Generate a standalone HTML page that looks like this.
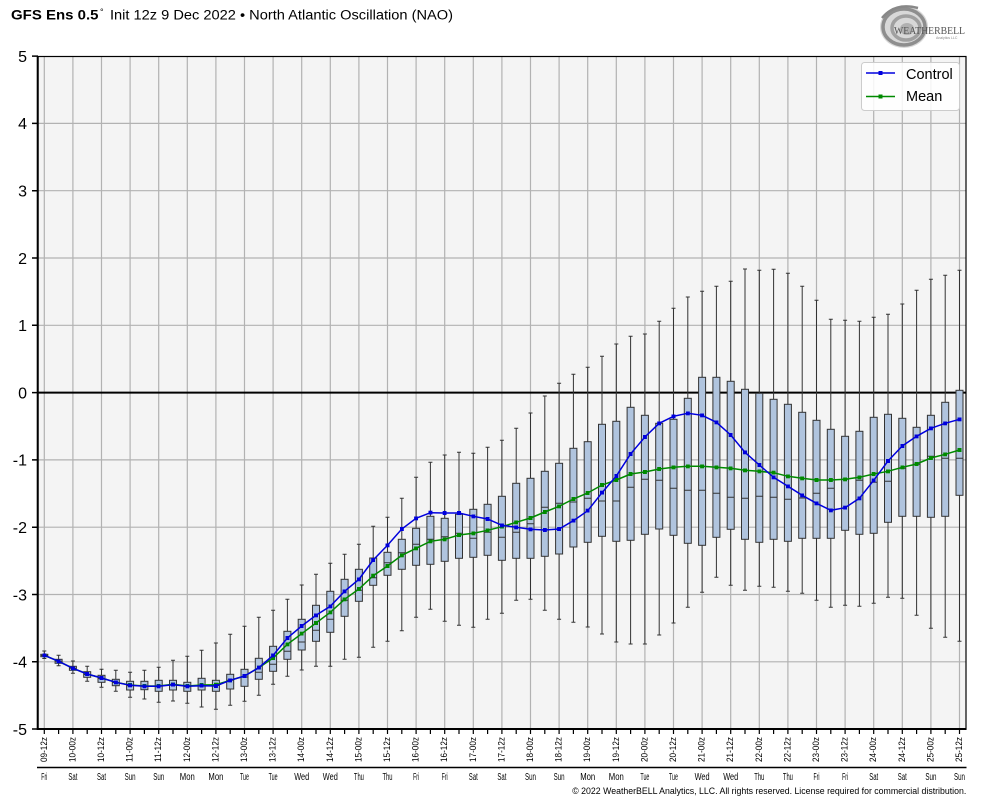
<!DOCTYPE html>
<html><head><meta charset="utf-8"><style>html,body{margin:0;padding:0;background:#fff}svg{display:block}</style></head>
<body>
<svg width="984" height="808" viewBox="0 0 984 808" xmlns="http://www.w3.org/2000/svg" font-family="'Liberation Sans', 'DejaVu Sans', sans-serif">
<defs>
<marker id="mc" markerWidth="4" markerHeight="4" refX="2" refY="2" markerUnits="userSpaceOnUse"><rect width="4" height="4" fill="#0000dd"/></marker>
<marker id="mm" markerWidth="4" markerHeight="4" refX="2" refY="2" markerUnits="userSpaceOnUse"><rect width="4" height="4" fill="#008a00"/></marker>
</defs>
<!-- title -->
<text x="11" y="19.5" font-size="13.5" font-weight="bold" fill="#000" textLength="87.5" lengthAdjust="spacingAndGlyphs">GFS Ens 0.5</text>
<text x="100" y="15" font-size="9" fill="#000">°</text>
<text x="110" y="19.5" font-size="13.5" fill="#000" textLength="343" lengthAdjust="spacingAndGlyphs">Init 12z 9 Dec 2022 • North Atlantic Oscillation (NAO)</text>
<!-- logo -->
<g>
<ellipse cx="904" cy="27" rx="24" ry="21" fill="#d8d8d8"/>
<ellipse cx="904" cy="27" rx="21" ry="18" fill="none" stroke="#8e8e8e" stroke-width="3.5"/>
<ellipse cx="906" cy="28" rx="14" ry="12" fill="none" stroke="#a0a0a0" stroke-width="3.5"/>
<ellipse cx="907" cy="29" rx="7" ry="6" fill="#b0b0b0"/>
<path d="M882 18 Q895 2 918 8" fill="none" stroke="#888" stroke-width="2.5"/>
<text x="894" y="34" font-family="'Liberation Serif', serif" font-size="10" fill="#555" textLength="71" lengthAdjust="spacingAndGlyphs">WEATHERBELL</text>
<text x="936" y="39" font-size="3.5" fill="#888">Analytics LLC</text>
</g>
<!-- plot background -->
<rect x="38" y="56" width="928" height="673" fill="#f4f4f4"/>
<!-- grid -->
<path fill="none" stroke="#b2b2b2" stroke-width="1.2" d="M44.3 56V729M72.9 56V729M101.5 56V729M130.1 56V729M158.7 56V729M187.3 56V729M215.9 56V729M244.5 56V729M273.1 56V729M301.7 56V729M330.3 56V729M358.9 56V729M387.5 56V729M416.1 56V729M444.7 56V729M473.3 56V729M501.9 56V729M530.5 56V729M559.1 56V729M587.7 56V729M616.3 56V729M644.9 56V729M673.5 56V729M702.1 56V729M730.7 56V729M759.3 56V729M787.9 56V729M816.5 56V729M845.1 56V729M873.7 56V729M902.3 56V729M930.9 56V729M959.5 56V729M38 123.4H966M38 190.7H966M38 258H966M38 325.3H966M38 459.9H966M38 527.2H966M38 594.5H966M38 661.8H966"/>
<!-- zero line -->
<path d="M38 392.6H966" stroke="#000" stroke-width="2"/>
<!-- boxes -->
<g fill="#b0c4de" stroke="#333" stroke-width="1">
<rect x="40.8" y="654.3" width="7" height="2.4"/><path d="M44.3 651V654.3M44.3 656.7V658.5M42.3 651h4M42.3 658.5h4M40.8 655.5h7"/>
<rect x="55.1" y="659.3" width="7" height="4"/><path d="M58.6 655.3V659.3M58.6 663.3V665.7M56.6 655.3h4M56.6 665.7h4M55.1 661.3h7"/>
<rect x="69.4" y="666.3" width="7" height="4"/><path d="M72.9 661V666.3M72.9 670.3V673.3M70.9 661h4M70.9 673.3h4M69.4 668.3h7"/>
<rect x="83.7" y="671.7" width="7" height="5.6"/><path d="M87.2 666.3V671.7M87.2 677.3V681.3M85.2 666.3h4M85.2 681.3h4M83.7 674.5h7"/>
<rect x="98" y="675.3" width="7" height="7"/><path d="M101.5 669.3V675.3M101.5 682.3V687.3M99.5 669.3h4M99.5 687.3h4M98 678.5h7"/>
<rect x="112.3" y="679.3" width="7" height="6.4"/><path d="M115.8 670.3V679.3M115.8 685.7V691.3M113.8 670.3h4M113.8 691.3h4M112.3 682.5h7"/>
<rect x="126.6" y="681.3" width="7" height="8.7"/><path d="M130.1 672.3V681.3M130.1 690V697.3M128.1 672.3h4M128.1 697.3h4M126.6 685.7h7"/>
<rect x="140.9" y="681.3" width="7" height="8.4"/><path d="M144.4 670.3V681.3M144.4 689.7V699M142.4 670.3h4M142.4 699h4M140.9 686h7"/>
<rect x="155.2" y="680.3" width="7" height="11"/><path d="M158.7 667.3V680.3M158.7 691.3V702.3M156.7 667.3h4M156.7 702.3h4M155.2 686h7"/>
<rect x="169.5" y="680.3" width="7" height="9.7"/><path d="M173 660.3V680.3M173 690V701M171 660.3h4M171 701h4M169.5 685h7"/>
<rect x="183.8" y="682.3" width="7" height="9"/><path d="M187.3 656.3V682.3M187.3 691.3V703.3M185.3 656.3h4M185.3 703.3h4M183.8 686.5h7"/>
<rect x="198.1" y="678.3" width="7" height="11.7"/><path d="M201.6 650.3V678.3M201.6 690V707M199.6 650.3h4M199.6 707h4M198.1 686h7"/>
<rect x="212.4" y="680.3" width="7" height="11"/><path d="M215.9 643V680.3M215.9 691.3V709.3M213.9 643h4M213.9 709.3h4M212.4 685.5h7"/>
<rect x="226.7" y="674.3" width="7" height="14.7"/><path d="M230.2 634.3V674.3M230.2 689V705.3M228.2 634.3h4M228.2 705.3h4M226.7 680.3h7"/>
<rect x="241" y="669.3" width="7" height="17"/><path d="M244.5 626.3V669.3M244.5 686.3V701.3M242.5 626.3h4M242.5 701.3h4M241 677h7"/>
<rect x="255.3" y="658.3" width="7" height="21"/><path d="M258.8 617.3V658.3M258.8 679.3V695.3M256.8 617.3h4M256.8 695.3h4M255.3 672.3h7"/>
<rect x="269.6" y="646.3" width="7" height="25"/><path d="M273.1 610.3V646.3M273.1 671.3V684.3M271.1 610.3h4M271.1 684.3h4M269.6 664.3h7"/>
<rect x="283.9" y="631.3" width="7" height="28"/><path d="M287.4 599.3V631.3M287.4 659.3V676.3M285.4 599.3h4M285.4 676.3h4M283.9 651.3h7"/>
<rect x="298.2" y="619.3" width="7" height="30.7"/><path d="M301.7 585V619.3M301.7 650V670M299.7 585h4M299.7 670h4M298.2 642h7"/>
<rect x="312.5" y="605.3" width="7" height="36"/><path d="M316 574.3V605.3M316 641.3V666.3M314 574.3h4M314 666.3h4M312.5 630.3h7"/>
<rect x="326.8" y="591.3" width="7" height="41"/><path d="M330.3 563.3V591.3M330.3 632.3V666.3M328.3 563.3h4M328.3 666.3h4M326.8 619.3h7"/>
<rect x="341.1" y="579.3" width="7" height="37"/><path d="M344.6 554.3V579.3M344.6 616.3V659.3M342.6 554.3h4M342.6 659.3h4M341.1 600.3h7"/>
<rect x="355.4" y="569.3" width="7" height="32"/><path d="M358.9 544.3V569.3M358.9 601.3V657.3M356.9 544.3h4M356.9 657.3h4M355.4 590.3h7"/>
<rect x="369.7" y="558" width="7" height="27.3"/><path d="M373.2 526.3V558M373.2 585.3V647.3M371.2 526.3h4M371.2 647.3h4M369.7 577.7h7"/>
<rect x="384" y="552.3" width="7" height="23"/><path d="M387.5 517.3V552.3M387.5 575.3V641.3M385.5 517.3h4M385.5 641.3h4M384 562.7h7"/>
<rect x="398.3" y="539.3" width="7" height="30"/><path d="M401.8 498.3V539.3M401.8 569.3V630.7M399.8 498.3h4M399.8 630.7h4M398.3 552.7h7"/>
<rect x="412.6" y="528.3" width="7" height="37"/><path d="M416.1 477.3V528.3M416.1 565.3V617.3M414.1 477.3h4M414.1 617.3h4M412.6 544.3h7"/>
<rect x="426.9" y="516.3" width="7" height="48"/><path d="M430.4 462.3V516.3M430.4 564.3V609.3M428.4 462.3h4M428.4 609.3h4M426.9 539.3h7"/>
<rect x="441.2" y="518.3" width="7" height="43"/><path d="M444.7 455V518.3M444.7 561.3V621.3M442.7 455h4M442.7 621.3h4M441.2 536.7h7"/>
<rect x="455.5" y="514.3" width="7" height="44"/><path d="M459 452.3V514.3M459 558.3V625.3M457 452.3h4M457 625.3h4M455.5 533.3h7"/>
<rect x="469.8" y="509.3" width="7" height="48"/><path d="M473.3 453.3V509.3M473.3 557.3V627.3M471.3 453.3h4M471.3 627.3h4M469.8 538.3h7"/>
<rect x="484.1" y="504.3" width="7" height="51"/><path d="M487.6 447.3V504.3M487.6 555.3V619.3M485.6 447.3h4M485.6 619.3h4M484.1 532.3h7"/>
<rect x="498.4" y="496.3" width="7" height="64"/><path d="M501.9 440.3V496.3M501.9 560.3V613.3M499.9 440.3h4M499.9 613.3h4M498.4 537.3h7"/>
<rect x="512.7" y="483.3" width="7" height="75"/><path d="M516.2 428.3V483.3M516.2 558.3V600.3M514.2 428.3h4M514.2 600.3h4M512.7 532.3h7"/>
<rect x="527" y="478.3" width="7" height="80"/><path d="M530.5 413V478.3M530.5 558.3V599.3M528.5 413h4M528.5 599.3h4M527 523.7h7"/>
<rect x="541.3" y="471.3" width="7" height="85"/><path d="M544.8 396V471.3M544.8 556.3V610.3M542.8 396h4M542.8 610.3h4M541.3 507.3h7"/>
<rect x="555.6" y="463.3" width="7" height="90.7"/><path d="M559.1 383.3V463.3M559.1 554V619.3M557.1 383.3h4M557.1 619.3h4M555.6 503.3h7"/>
<rect x="569.9" y="448.3" width="7" height="98.7"/><path d="M573.4 374.3V448.3M573.4 547V622.3M571.4 374.3h4M571.4 622.3h4M569.9 502h7"/>
<rect x="584.2" y="441.7" width="7" height="100.6"/><path d="M587.7 367.3V441.7M587.7 542.3V627M585.7 367.3h4M585.7 627h4M584.2 498.3h7"/>
<rect x="598.5" y="424.3" width="7" height="112"/><path d="M602 356.3V424.3M602 536.3V634M600 356.3h4M600 634h4M598.5 501h7"/>
<rect x="612.8" y="421.3" width="7" height="120"/><path d="M616.3 344V421.3M616.3 541.3V642M614.3 344h4M614.3 642h4M612.8 501h7"/>
<rect x="627.1" y="407.3" width="7" height="133"/><path d="M630.6 336.3V407.3M630.6 540.3V644M628.6 336.3h4M628.6 644h4M627.1 487.3h7"/>
<rect x="641.4" y="415.3" width="7" height="119"/><path d="M644.9 334V415.3M644.9 534.3V644M642.9 334h4M642.9 644h4M641.4 479.3h7"/>
<rect x="655.7" y="423.3" width="7" height="105.7"/><path d="M659.2 321.3V423.3M659.2 529V635M657.2 321.3h4M657.2 635h4M655.7 480.3h7"/>
<rect x="670" y="419.3" width="7" height="116"/><path d="M673.5 308.3V419.3M673.5 535.3V623M671.5 308.3h4M671.5 623h4M670 488.3h7"/>
<rect x="684.3" y="398.3" width="7" height="145"/><path d="M687.8 297V398.3M687.8 543.3V607.3M685.8 297h4M685.8 607.3h4M684.3 490.3h7"/>
<rect x="698.6" y="377.3" width="7" height="168"/><path d="M702.1 291.3V377.3M702.1 545.3V592.3M700.1 291.3h4M700.1 592.3h4M698.6 490.3h7"/>
<rect x="712.9" y="377.3" width="7" height="160"/><path d="M716.4 286.3V377.3M716.4 537.3V577.3M714.4 286.3h4M714.4 577.3h4M712.9 493.3h7"/>
<rect x="727.2" y="381.3" width="7" height="148"/><path d="M730.7 281.3V381.3M730.7 529.3V585.3M728.7 281.3h4M728.7 585.3h4M727.2 497.3h7"/>
<rect x="741.5" y="389.3" width="7" height="150"/><path d="M745 269V389.3M745 539.3V590.3M743 269h4M743 590.3h4M741.5 498.3h7"/>
<rect x="755.8" y="393.3" width="7" height="149"/><path d="M759.3 270.3V393.3M759.3 542.3V586.3M757.3 270.3h4M757.3 586.3h4M755.8 496.3h7"/>
<rect x="770.1" y="399.3" width="7" height="140"/><path d="M773.6 269.3V399.3M773.6 539.3V587.3M771.6 269.3h4M771.6 587.3h4M770.1 497.3h7"/>
<rect x="784.4" y="404.3" width="7" height="137"/><path d="M787.9 273.3V404.3M787.9 541.3V591.3M785.9 273.3h4M785.9 591.3h4M784.4 499.3h7"/>
<rect x="798.7" y="412.3" width="7" height="126"/><path d="M802.2 286.3V412.3M802.2 538.3V593.3M800.2 286.3h4M800.2 593.3h4M798.7 498h7"/>
<rect x="813" y="420.3" width="7" height="118"/><path d="M816.5 300.3V420.3M816.5 538.3V600.3M814.5 300.3h4M814.5 600.3h4M813 493.3h7"/>
<rect x="827.3" y="429.3" width="7" height="109"/><path d="M830.8 319.3V429.3M830.8 538.3V607.3M828.8 319.3h4M828.8 607.3h4M827.3 488.3h7"/>
<rect x="841.6" y="436.3" width="7" height="94"/><path d="M845.1 320.3V436.3M845.1 530.3V605.3M843.1 320.3h4M843.1 605.3h4M841.6 479.3h7"/>
<rect x="855.9" y="431.3" width="7" height="103"/><path d="M859.4 321.3V431.3M859.4 534.3V606.3M857.4 321.3h4M857.4 606.3h4M855.9 480.3h7"/>
<rect x="870.2" y="417.3" width="7" height="116"/><path d="M873.7 317.3V417.3M873.7 533.3V603.3M871.7 317.3h4M871.7 603.3h4M870.2 482.3h7"/>
<rect x="884.5" y="414.3" width="7" height="108"/><path d="M888 314.3V414.3M888 522.3V597.3M886 314.3h4M886 597.3h4M884.5 481.3h7"/>
<rect x="898.8" y="418.3" width="7" height="98"/><path d="M902.3 304V418.3M902.3 516.3V598.3M900.3 304h4M900.3 598.3h4M898.8 468.3h7"/>
<rect x="913.1" y="427.3" width="7" height="89"/><path d="M916.6 290.3V427.3M916.6 516.3V615.3M914.6 290.3h4M914.6 615.3h4M913.1 464.3h7"/>
<rect x="927.4" y="415.3" width="7" height="102"/><path d="M930.9 279.3V415.3M930.9 517.3V628.3M928.9 279.3h4M928.9 628.3h4M927.4 456.3h7"/>
<rect x="941.7" y="402.3" width="7" height="114"/><path d="M945.2 275.3V402.3M945.2 516.3V637.3M943.2 275.3h4M943.2 637.3h4M941.7 458.3h7"/>
<rect x="956" y="390.3" width="7" height="105"/><path d="M959.5 270.3V390.3M959.5 495.3V641.3M957.5 270.3h4M957.5 641.3h4M956 458.3h7"/>
</g>
<!-- mean line -->
<polyline fill="none" stroke="#008a00" stroke-width="1.5" marker-start="url(#mm)" marker-mid="url(#mm)" marker-end="url(#mm)" points="44.3,655.3 58.6,661.3 72.9,668.3 87.2,674 101.5,678 115.8,682.3 130.1,685 144.4,686 158.7,686 173,684.3 187.3,686 201.6,685 215.9,684.7 230.2,680.3 244.5,676 258.8,667.7 273.1,658 287.4,644.3 301.7,633.7 316,623 330.3,612.3 344.6,599.3 358.9,589 373.2,575.7 387.5,566 401.8,555.3 416.1,548.3 430.4,541.3 444.7,539.3 459,535 473.3,533.3 487.6,530.3 501.9,526.7 516.2,522.3 530.5,518 544.8,512 559.1,506.3 573.4,499 587.7,493 602,485 616.3,480 630.6,474 644.9,472 659.2,469 673.5,467.3 687.8,466.3 702.1,466.3 716.4,467.3 730.7,468.3 745,470.3 759.3,471.3 773.6,472.7 787.9,476.3 802.2,478.3 816.5,480 830.8,480 845.1,479.3 859.4,477.3 873.7,474 888,471.3 902.3,467.3 916.6,464 930.9,458 945.2,454.3 959.5,450"/>
<!-- control line -->
<polyline fill="none" stroke="#0000dd" stroke-width="1.5" marker-start="url(#mc)" marker-mid="url(#mc)" marker-end="url(#mc)" points="44.3,655.3 58.6,661.3 72.9,668.3 87.2,674 101.5,678 115.8,682.3 130.1,685.3 144.4,686.3 158.7,686.3 173,684.7 187.3,686.3 201.6,685.7 215.9,686 230.2,680.3 244.5,676 258.8,667.7 273.1,655.3 287.4,638 301.7,626 316,615.3 330.3,606.3 344.6,591.3 358.9,579.3 373.2,560 387.5,545.3 401.8,529 416.1,518.3 430.4,512.7 444.7,513 459,513 473.3,516.3 487.6,519 501.9,525.3 516.2,527.3 530.5,529.3 544.8,530 559.1,529 573.4,520.7 587.7,510.7 602,492.7 616.3,476 630.6,454 644.9,437 659.2,423.3 673.5,416.3 687.8,413.3 702.1,415.3 716.4,422.3 730.7,435 745,452.3 759.3,465 773.6,477.3 787.9,486.3 802.2,495.3 816.5,503.3 830.8,510.3 845.1,507.7 859.4,498.3 873.7,480.3 888,461 902.3,446 916.6,436.3 930.9,428.3 945.2,423.3 959.5,419.3"/>
<!-- frame -->
<rect x="38" y="56.5" width="928" height="672.5" fill="none" stroke="#000" stroke-width="1.2"/>
<path d="M37.7 56V730M37 729H966.5" stroke="#000" stroke-width="2"/>
<!-- y ticks -->
<path stroke="#000" stroke-width="1.5" d="M32 56.1H38M32 123.4H38M32 190.7H38M32 258H38M32 325.3H38M32 392.6H38M32 459.9H38M32 527.2H38M32 594.5H38M32 661.8H38M32 729H38"/>
<g font-size="16" text-anchor="end" fill="#000">
<text x="27" y="61.9">5</text>
<text x="27" y="129.2">4</text>
<text x="27" y="196.5">3</text>
<text x="27" y="263.8">2</text>
<text x="27" y="331.1">1</text>
<text x="27" y="398.4">0</text>
<text x="27" y="465.7">-1</text>
<text x="27" y="533">-2</text>
<text x="27" y="600.3">-3</text>
<text x="27" y="667.6">-4</text>
<text x="27" y="734.8">-5</text>
</g>
<!-- x ticks -->
<path stroke="#000" stroke-width="1.2" d="M44.3 729v5M58.6 729v5M72.9 729v5M87.2 729v5M101.5 729v5M115.8 729v5M130.1 729v5M144.4 729v5M158.7 729v5M173 729v5M187.3 729v5M201.6 729v5M215.9 729v5M230.2 729v5M244.5 729v5M258.8 729v5M273.1 729v5M287.4 729v5M301.7 729v5M316 729v5M330.3 729v5M344.6 729v5M358.9 729v5M373.2 729v5M387.5 729v5M401.8 729v5M416.1 729v5M430.4 729v5M444.7 729v5M459 729v5M473.3 729v5M487.6 729v5M501.9 729v5M516.2 729v5M530.5 729v5M544.8 729v5M559.1 729v5M573.4 729v5M587.7 729v5M602 729v5M616.3 729v5M630.6 729v5M644.9 729v5M659.2 729v5M673.5 729v5M687.8 729v5M702.1 729v5M716.4 729v5M730.7 729v5M745 729v5M759.3 729v5M773.6 729v5M787.9 729v5M802.2 729v5M816.5 729v5M830.8 729v5M845.1 729v5M859.4 729v5M873.7 729v5M888 729v5M902.3 729v5M916.6 729v5M930.9 729v5M945.2 729v5M959.5 729v5"/>
<!-- date labels -->
<g font-size="9" text-anchor="end" fill="#000">
<text transform="translate(46.8,737) rotate(-90)" textLength="25" lengthAdjust="spacingAndGlyphs">09-12z</text>
<text transform="translate(75.4,737) rotate(-90)" textLength="25" lengthAdjust="spacingAndGlyphs">10-00z</text>
<text transform="translate(104,737) rotate(-90)" textLength="25" lengthAdjust="spacingAndGlyphs">10-12z</text>
<text transform="translate(132.6,737) rotate(-90)" textLength="25" lengthAdjust="spacingAndGlyphs">11-00z</text>
<text transform="translate(161.2,737) rotate(-90)" textLength="25" lengthAdjust="spacingAndGlyphs">11-12z</text>
<text transform="translate(189.8,737) rotate(-90)" textLength="25" lengthAdjust="spacingAndGlyphs">12-00z</text>
<text transform="translate(218.4,737) rotate(-90)" textLength="25" lengthAdjust="spacingAndGlyphs">12-12z</text>
<text transform="translate(247,737) rotate(-90)" textLength="25" lengthAdjust="spacingAndGlyphs">13-00z</text>
<text transform="translate(275.6,737) rotate(-90)" textLength="25" lengthAdjust="spacingAndGlyphs">13-12z</text>
<text transform="translate(304.2,737) rotate(-90)" textLength="25" lengthAdjust="spacingAndGlyphs">14-00z</text>
<text transform="translate(332.8,737) rotate(-90)" textLength="25" lengthAdjust="spacingAndGlyphs">14-12z</text>
<text transform="translate(361.4,737) rotate(-90)" textLength="25" lengthAdjust="spacingAndGlyphs">15-00z</text>
<text transform="translate(390,737) rotate(-90)" textLength="25" lengthAdjust="spacingAndGlyphs">15-12z</text>
<text transform="translate(418.6,737) rotate(-90)" textLength="25" lengthAdjust="spacingAndGlyphs">16-00z</text>
<text transform="translate(447.2,737) rotate(-90)" textLength="25" lengthAdjust="spacingAndGlyphs">16-12z</text>
<text transform="translate(475.8,737) rotate(-90)" textLength="25" lengthAdjust="spacingAndGlyphs">17-00z</text>
<text transform="translate(504.4,737) rotate(-90)" textLength="25" lengthAdjust="spacingAndGlyphs">17-12z</text>
<text transform="translate(533,737) rotate(-90)" textLength="25" lengthAdjust="spacingAndGlyphs">18-00z</text>
<text transform="translate(561.6,737) rotate(-90)" textLength="25" lengthAdjust="spacingAndGlyphs">18-12z</text>
<text transform="translate(590.2,737) rotate(-90)" textLength="25" lengthAdjust="spacingAndGlyphs">19-00z</text>
<text transform="translate(618.8,737) rotate(-90)" textLength="25" lengthAdjust="spacingAndGlyphs">19-12z</text>
<text transform="translate(647.4,737) rotate(-90)" textLength="25" lengthAdjust="spacingAndGlyphs">20-00z</text>
<text transform="translate(676,737) rotate(-90)" textLength="25" lengthAdjust="spacingAndGlyphs">20-12z</text>
<text transform="translate(704.6,737) rotate(-90)" textLength="25" lengthAdjust="spacingAndGlyphs">21-00z</text>
<text transform="translate(733.2,737) rotate(-90)" textLength="25" lengthAdjust="spacingAndGlyphs">21-12z</text>
<text transform="translate(761.8,737) rotate(-90)" textLength="25" lengthAdjust="spacingAndGlyphs">22-00z</text>
<text transform="translate(790.4,737) rotate(-90)" textLength="25" lengthAdjust="spacingAndGlyphs">22-12z</text>
<text transform="translate(819,737) rotate(-90)" textLength="25" lengthAdjust="spacingAndGlyphs">23-00z</text>
<text transform="translate(847.6,737) rotate(-90)" textLength="25" lengthAdjust="spacingAndGlyphs">23-12z</text>
<text transform="translate(876.2,737) rotate(-90)" textLength="25" lengthAdjust="spacingAndGlyphs">24-00z</text>
<text transform="translate(904.8,737) rotate(-90)" textLength="25" lengthAdjust="spacingAndGlyphs">24-12z</text>
<text transform="translate(933.4,737) rotate(-90)" textLength="25" lengthAdjust="spacingAndGlyphs">25-00z</text>
<text transform="translate(962,737) rotate(-90)" textLength="25" lengthAdjust="spacingAndGlyphs">25-12z</text>
</g>
<path d="M37 767.5H966.5" stroke="#000" stroke-width="1.5"/>
<!-- day labels -->
<g font-size="10" text-anchor="middle" fill="#000">
<text x="44.3" y="780" textLength="6" lengthAdjust="spacingAndGlyphs">Fri</text>
<text x="72.9" y="780" textLength="9" lengthAdjust="spacingAndGlyphs">Sat</text>
<text x="101.5" y="780" textLength="9" lengthAdjust="spacingAndGlyphs">Sat</text>
<text x="130.1" y="780" textLength="11" lengthAdjust="spacingAndGlyphs">Sun</text>
<text x="158.7" y="780" textLength="11" lengthAdjust="spacingAndGlyphs">Sun</text>
<text x="187.3" y="780" textLength="15" lengthAdjust="spacingAndGlyphs">Mon</text>
<text x="215.9" y="780" textLength="15" lengthAdjust="spacingAndGlyphs">Mon</text>
<text x="244.5" y="780" textLength="9" lengthAdjust="spacingAndGlyphs">Tue</text>
<text x="273.1" y="780" textLength="9" lengthAdjust="spacingAndGlyphs">Tue</text>
<text x="301.7" y="780" textLength="15" lengthAdjust="spacingAndGlyphs">Wed</text>
<text x="330.3" y="780" textLength="15" lengthAdjust="spacingAndGlyphs">Wed</text>
<text x="358.9" y="780" textLength="10" lengthAdjust="spacingAndGlyphs">Thu</text>
<text x="387.5" y="780" textLength="10" lengthAdjust="spacingAndGlyphs">Thu</text>
<text x="416.1" y="780" textLength="6" lengthAdjust="spacingAndGlyphs">Fri</text>
<text x="444.7" y="780" textLength="6" lengthAdjust="spacingAndGlyphs">Fri</text>
<text x="473.3" y="780" textLength="9" lengthAdjust="spacingAndGlyphs">Sat</text>
<text x="501.9" y="780" textLength="9" lengthAdjust="spacingAndGlyphs">Sat</text>
<text x="530.5" y="780" textLength="11" lengthAdjust="spacingAndGlyphs">Sun</text>
<text x="559.1" y="780" textLength="11" lengthAdjust="spacingAndGlyphs">Sun</text>
<text x="587.7" y="780" textLength="15" lengthAdjust="spacingAndGlyphs">Mon</text>
<text x="616.3" y="780" textLength="15" lengthAdjust="spacingAndGlyphs">Mon</text>
<text x="644.9" y="780" textLength="9" lengthAdjust="spacingAndGlyphs">Tue</text>
<text x="673.5" y="780" textLength="9" lengthAdjust="spacingAndGlyphs">Tue</text>
<text x="702.1" y="780" textLength="15" lengthAdjust="spacingAndGlyphs">Wed</text>
<text x="730.7" y="780" textLength="15" lengthAdjust="spacingAndGlyphs">Wed</text>
<text x="759.3" y="780" textLength="10" lengthAdjust="spacingAndGlyphs">Thu</text>
<text x="787.9" y="780" textLength="10" lengthAdjust="spacingAndGlyphs">Thu</text>
<text x="816.5" y="780" textLength="6" lengthAdjust="spacingAndGlyphs">Fri</text>
<text x="845.1" y="780" textLength="6" lengthAdjust="spacingAndGlyphs">Fri</text>
<text x="873.7" y="780" textLength="9" lengthAdjust="spacingAndGlyphs">Sat</text>
<text x="902.3" y="780" textLength="9" lengthAdjust="spacingAndGlyphs">Sat</text>
<text x="930.9" y="780" textLength="11" lengthAdjust="spacingAndGlyphs">Sun</text>
<text x="959.5" y="780" textLength="11" lengthAdjust="spacingAndGlyphs">Sun</text>
</g>
<text x="572.3" y="794" font-size="9" fill="#000" textLength="394" lengthAdjust="spacingAndGlyphs">© 2022 WeatherBELL Analytics, LLC. All rights reserved. License required for commercial distribution.</text>
<!-- legend -->
<rect x="861.5" y="62.5" width="98" height="48" rx="3" fill="#ffffff" fill-opacity="0.85" stroke="#cccccc" stroke-width="1"/>
<path d="M866 73H895" stroke="#0000dd" stroke-width="1.5"/>
<rect x="878.5" y="71" width="4" height="4" fill="#0000dd"/>
<path d="M866 96.5H895" stroke="#008a00" stroke-width="1.5"/>
<rect x="878.5" y="94.5" width="4" height="4" fill="#008a00"/>
<text x="906" y="79" font-size="14.5" fill="#000">Control</text>
<text x="906" y="101" font-size="14.5" fill="#000">Mean</text>
</svg>
</body></html>
